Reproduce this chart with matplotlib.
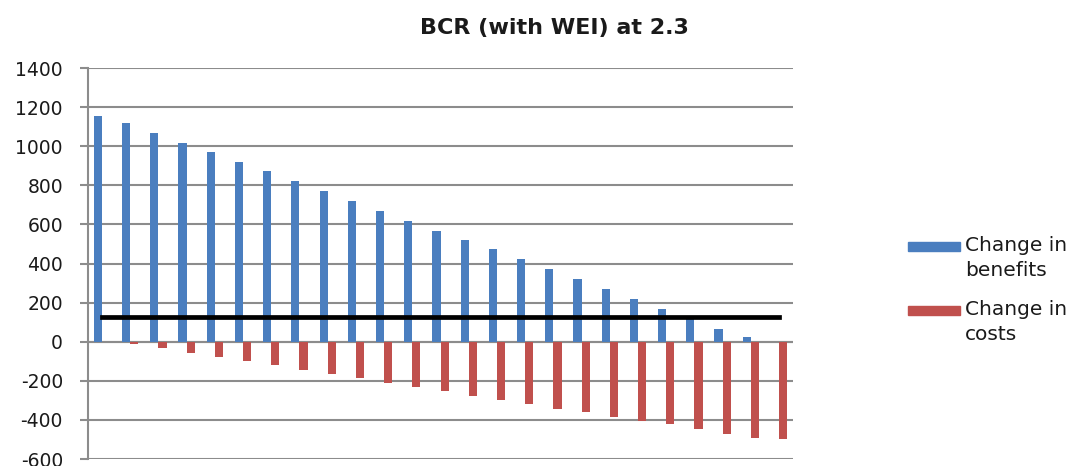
import numpy as np
import matplotlib.pyplot as plt
from matplotlib.patches import Rectangle

plt.rcParams['font.family'] = ['DejaVu Sans']

# change in benefits / change in costs per option, sorted by benefit
benefits = [1153, 1119, 1068, 1017, 968, 918, 871, 820, 770, 719, 668, 617, 568,
            519, 473, 422, 372, 321, 270, 219, 167, 120, 65, 22, 0]
costs = [0, -14, -34, -58, -78, -99, -121, -145, -165, -187, -211, -231, -253,
         -277, -298, -320, -344, -361, -384, -406, -423, -447, -471, -490, -500]
threshold = 127
yticks = list(range(-600, 1401, 200))
series_names = ['Change in\nbenefits', 'Change in\ncosts']

blue = '#4A7EBF'
red = '#C0504D'
grid = '#8C8C8C'
txt = '#1a1a1a'

x = np.arange(len(benefits))
w = 0.29

fig = plt.figure(figsize=(10.7, 4.66), dpi=100)
ax = fig.add_axes([0.0822, 0.015, 0.659, 0.839])

ax.bar(x - w / 2, benefits, width=w, color=blue, zorder=3)
ax.bar(x + w / 2, costs, width=w, color=red, zorder=3)
ax.plot(x, [threshold] * len(x), color='black', lw=3.4, zorder=4)

ax.set_xlim(-0.5, len(x) - 0.5)
ax.set_ylim(-600, 1400)
ax.set_yticks(yticks)
ax.set_yticklabels([str(t) for t in yticks], fontsize=13.5, color=txt)
ax.yaxis.grid(True, color=grid, lw=1.5, zorder=0)
ax.axhline(0, color=grid, lw=1.5, zorder=2)
ax.set_xticks([])
ax.tick_params(axis='y', length=6, width=1.5, color=grid, pad=12)
for side in ['top', 'right', 'bottom']:
    ax.spines[side].set_visible(False)
ax.spines['left'].set_color(grid)
ax.spines['left'].set_linewidth(1.5)

fig.text(0.518, 0.94, 'BCR (with WEI) at 2.3', ha='center', va='center',
         fontsize=16, fontweight='bold', color=txt)

# legend drawn by hand so the swatch sits beside the first text line
W, H = 1070.0, 466.0
for i, (name, col) in enumerate(zip(series_names, [blue, red])):
    top = 242 + i * 64
    fig.add_artist(Rectangle((908 / W, 1 - (top + 9) / H), 52 / W, 9 / H,
                             transform=fig.transFigure, color=col))
    fig.text(965 / W, 1 - (top + 16) / H, name, ha='left', va='center',
             fontsize=14.5, color=txt, linespacing=1.45)

fig.savefig('out.png', dpi=100)
